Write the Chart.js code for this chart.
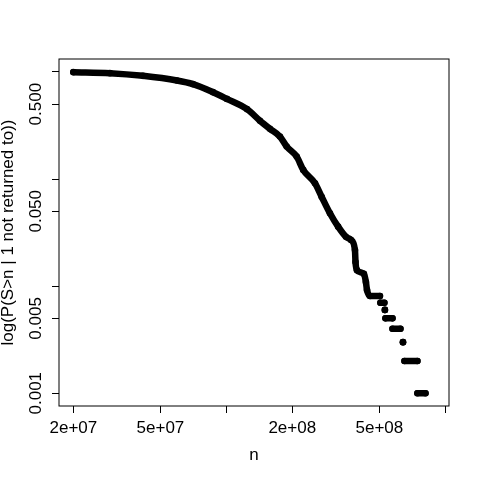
<!DOCTYPE html>
<html>
<head>
<meta charset="utf-8">
<script src="https://cdn.jsdelivr.net/npm/chart.js@4"></script>
<style>
  body { margin: 0; background: #fff; }
</style>
</head>
<body>
<canvas id="Demo" width="480" height="480"></canvas>
<script>
// main curve
let nValues = [2.0e7, 2.94e7, 4.16e7, 5.95e7, 7.04e7, 8.69e7, 1.006e8, 1.243e8, 1.424e8,
  1.582e8, 1.757e8, 1.886e8, 2.095e8, 2.245e8, 2.54e8, 2.724e8, 2.973e8, 3.24e8, 3.517e8, 3.71e8,
  3.868e8, 3.89e8, 3.95e8, 4.25e8, 4.34e8, 4.39e8, 4.53e8, 5.03e8];
let pValues = [0.995, 0.974, 0.919, 0.831, 0.769, 0.647, 0.560, 0.449, 0.350,
  0.294, 0.249, 0.201, 0.162, 0.1216, 0.0913, 0.0684, 0.0479, 0.0359, 0.0289, 0.0270,
  0.0217, 0.0168, 0.0141, 0.0130, 0.0109, 0.0092, 0.0081, 0.0081];

// the separate steps in the tail
let stepP = [0.007, 0.006, 0.005, 0.004, 0.003, 0.002, 0.001];
let stepFrom = [5.055e8, 5.30e8, 5.33e8, 5.74e8, 6.41e8, 6.51e8, 7.46e8];
let stepTo = [5.27e8, 5.30e8, 5.74e8, 6.24e8, 6.41e8, 7.46e8, 8.12e8];

let xTicks = [2e7, 5e7, 1e8, 2e8, 5e8, 1e9];
let xLabels = ['2e+07', '5e+07', '', '2e+08', '5e+08', ''];
let yTicks = [0.001, 0.005, 0.01, 0.05, 0.1, 0.5, 1];
let yLabels = ['0.001', '0.005', '', '0.050', '', '0.500', ''];

let points = nValues.map((n, i) => ({x: n, y: pValues[i]}));
stepP.forEach((p, i) => {
  points.push({x: stepFrom[i], y: null});
  points.push({x: stepFrom[i], y: p});
  points.push({x: stepTo[i], y: p});
});

function labelFor(ticks, labels, v) {
  let i = ticks.findIndex(t => Math.abs(t - v) / t < 1e-6);
  return i < 0 ? '' : labels[i];
}

let font = {family: "'Liberation Sans', Arial, sans-serif", size: 17};

let frame = {
  id: 'frame',
  afterDraw(chart) {
    let a = chart.chartArea;
    let ctx = chart.ctx;
    ctx.save();
    ctx.strokeStyle = '#000';
    ctx.lineWidth = 1;
    ctx.strokeRect(a.left, a.top, a.right - a.left, a.bottom - a.top);
    ctx.restore();
  }
};

let kanvas = document.getElementById('Demo');

let grafik = new Chart(kanvas, {
  type: 'scatter',
  data: {
    datasets: [{
      data: points,
      showLine: true,
      spanGaps: false,
      cubicInterpolationMode: 'monotone',
      borderColor: '#000',
      backgroundColor: '#000',
      borderWidth: 6.5,
      borderCapStyle: 'round',
      borderJoinStyle: 'round',
      pointRadius: 3.3,
      pointBorderWidth: 0,
      pointHoverRadius: 3.3
    }]
  },
  options: {
    responsive: false,
    animation: false,
    layout: {padding: {left: 0, right: 31, top: 59, bottom: 0}},
    plugins: {legend: {display: false}, tooltip: {enabled: false}},
    scales: {
      x: {
        type: 'logarithmic',
        min: 1.72e7,
        max: 1.04e9,
        afterBuildTicks: s => { s.ticks = xTicks.map(v => ({value: v})); },
        afterFit: s => { s.height = 74; },
        grid: {drawOnChartArea: false, drawTicks: true, tickLength: 7, color: '#000'},
        border: {display: false},
        ticks: {
          autoSkip: false, maxRotation: 0, minRotation: 0, padding: 5,
          color: '#000', font: font,
          callback: v => labelFor(xTicks, xLabels, v)
        },
        title: {display: true, text: 'n', color: '#000', font: {...font, lineHeight: 1},
          padding: {top: 0, bottom: 16}}
      },
      y: {
        type: 'logarithmic',
        min: 0.00076,
        max: 1.32,
        afterBuildTicks: s => { s.ticks = yTicks.map(v => ({value: v})); },
        afterFit: s => { s.width = 59; },
        grid: {drawOnChartArea: false, drawTicks: true, tickLength: 7, color: '#000'},
        border: {display: false},
        ticks: {
          autoSkip: false, minRotation: 90, maxRotation: 90, crossAlign: 'center', padding: -5.5,
          color: '#000', font: font,
          callback: v => labelFor(yTicks, yLabels, v)
        },
        title: {display: true, text: 'log(P(S>n | 1 not returned to))', color: '#000',
          font: {...font, lineHeight: 1}, padding: {top: 0, bottom: 0}}
      }
    }
  },
  plugins: [frame]
});
</script>
</body>
</html>
